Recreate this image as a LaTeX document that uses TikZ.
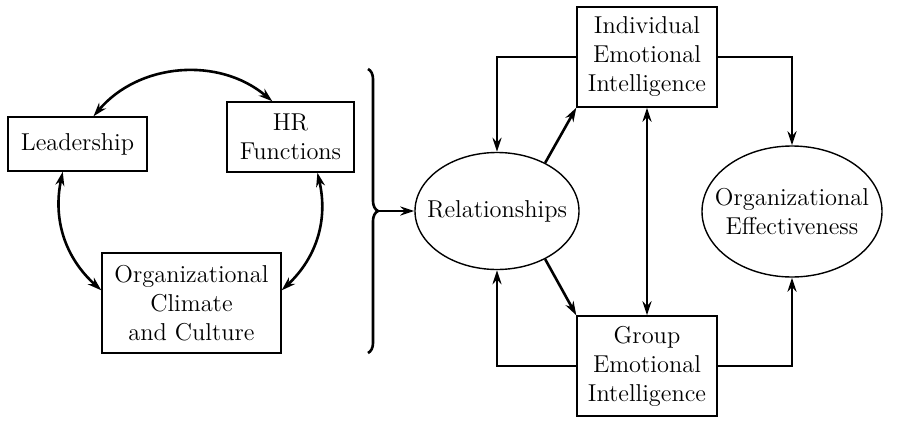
\documentclass[tikz,border=0pt]{standalone}
\usepackage{tikz}
\usetikzlibrary{calc,positioning}
\usetikzlibrary{shapes}
\usetikzlibrary{arrows.meta,decorations.pathreplacing}

\begin{document}
\begin{tikzpicture}[x=0.5pt,y=-0.5pt,
	main/.style = {draw, line width=0.7pt, align=center, inner sep=0pt, font=\fontsize{12.2}{14.5}\selectfont},
	oval/.style = {draw, ellipse, line width=0.7pt, align=center, inner sep=-8pt, font=\fontsize{12.2}{14.5}\selectfont},
	link/.style = {line width=1.3pt, ->},
	>={Stealth[length=7pt,width=4.5pt]}]
		\useasboundingbox (0,0) rectangle (900,445);
		\node[main, minimum width=69.5pt, minimum height=27pt] (lead) at (77.5,144) {Leadership};
		\node[main, minimum width=63.5pt, minimum height=35pt] (hr) at (290.5,137) {HR\\Functions};
		\node[main, minimum width=89.5pt, minimum height=50pt] (clim) at (191.5,303) {Organizational\\Climate\\and Culture};
		\node[main, minimum width=70pt, minimum height=50pt] (indiv) at (647,57) {Individual\\Emotional\\Intelligence};
		\node[main, minimum width=70pt, minimum height=50pt] (group) at (647,366) {Group\\Emotional\\Intelligence};
		\node[oval, minimum width=82pt, minimum height=58.5pt] (rel) at (497,211) {Relationships};
		\node[oval, minimum width=90pt, minimum height=65.5pt] (oe) at (792,211.5) {Organizational\\Effectiveness};
		\draw[<->, line width=1.3pt] (lead.60) to[bend left=45] (hr.117);
		\draw[<->, line width=1.3pt] (lead.-118) to[bend right=30] (clim.172);
		\draw[<->, line width=1.3pt] (hr.-53) to[bend left=30] (clim.8);
		\draw[line width=1.3pt, decorate, decoration={brace, amplitude=5pt}] (368,69) -- (368,353);
		\coordinate (tip) at (378,211);
		\draw[link] (tip) -- (rel.west);
		\draw[link] (indiv.west) -| (rel.north);
		\draw[link] (indiv.east) -| (oe.north);
		\draw[link] (group.west) -| (rel.south);
		\draw[link] (group.east) -| (oe.south);
		\draw[link] (rel.45) -- (indiv.south west);
		\draw[link] (rel.-45) -- (group.north west);
		\draw[<->, line width=1.3pt] (indiv.south) -- (group.north);
	\end{tikzpicture}
\end{document}
